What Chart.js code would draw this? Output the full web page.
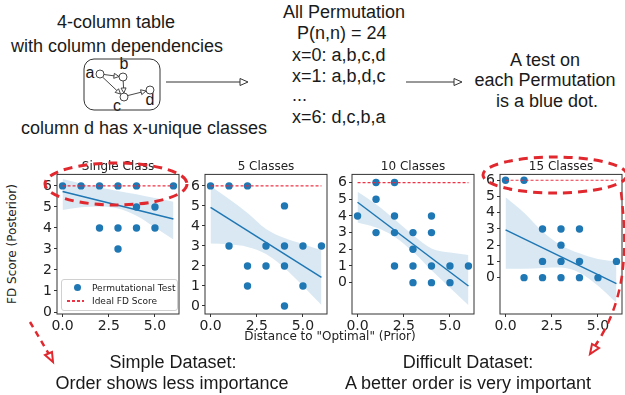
<!DOCTYPE html>
<html>
<head>
<meta charset="utf-8">
<script src="https://cdn.jsdelivr.net/npm/chart.js@4.4.1/dist/chart.umd.min.js"></script>
<style>
    body { margin: 0; width: 625px; height: 395px; background: #fff; position: relative; overflow: hidden;
           font-family: "Liberation Sans", Arial, sans-serif; color: #1a1a1a; }
    .c { position: absolute; font-size: 18px; white-space: nowrap; transform: translate(-50%, -50%); }
    .l { position: absolute; font-size: 18px; white-space: nowrap; transform: translateY(-50%); }
    .node { position: absolute; font-size: 16px; transform: translate(-50%, -50%); }
    .ax { position: absolute; font-family: "DejaVu Sans", sans-serif; font-size: 12px; white-space: nowrap; color: #222; }
    .panel { position: absolute; }
    #legend { position: absolute; left: 61px; top: 279px; width: 115px; height: 30px; border: 1px solid #d0d0d0;
              border-radius: 3px; background: rgba(255,255,255,0.85); font-family: "DejaVu Sans", sans-serif;
              font-size: 9px; color: #222; }
    #legend .row { position: absolute; left: 30px; white-space: nowrap; transform: translateY(-50%); }
    #legend .dot { position: absolute; left: 12px; top: 4px; width: 7px; height: 7px; border-radius: 50%; background: #1f77b4; }
    #legend .dash { position: absolute; left: 5px; top: 20px; width: 17px; height: 1.5px;
                    background: repeating-linear-gradient(to right, #ee3344 0 3px, transparent 3px 5px); }
    svg { position: absolute; left: 0; top: 0; }
</style>
</head>
<body>

<!-- top annotations -->
<div class="c" style="left:116px; top:22px">4-column table</div>
<div class="c" style="left:117px; top:46px">with column dependencies</div>
<div class="c" style="left:144px; top:128px">column d has x-unique classes</div>
<div class="node" style="left:90px; top:73px">a</div>
<div class="node" style="left:124px; top:64px">b</div>
<div class="node" style="left:117px; top:106px">c</div>
<div class="node" style="left:150px; top:100px">d</div>

<div class="l" style="left:283px; top:12px">All Permutation</div>
<div class="l" style="left:297px; top:33px">P(n,n) = 24</div>
<div class="l" style="left:292px; top:55px">x=0: a,b,c,d</div>
<div class="l" style="left:292px; top:76px">x=1: a,b,d,c</div>
<div class="l" style="left:292px; top:95px">...</div>
<div class="l" style="left:292px; top:117px">x=6: d,c,b,a</div>

<div class="c" style="left:545px; top:60px">A test on</div>
<div class="c" style="left:545px; top:80px">each Permutation</div>
<div class="c" style="left:547px; top:101px">is a blue dot.</div>

<!-- panels -->
<canvas id="p0" class="panel"></canvas>
<canvas id="p1" class="panel"></canvas>
<canvas id="p2" class="panel"></canvas>
<canvas id="p3" class="panel"></canvas>

<div id="legend">
    <div class="dot"></div><div class="row" style="top:8px">Permutational Test</div>
    <div class="dash"></div><div class="row" style="top:21px">Ideal FD Score</div>
</div>

<div class="ax" style="left:330px; top:336px; transform:translate(-50%,-50%)">Distance to "Optimal" (Prior)</div>
<div class="ax" style="left:12px; top:244px; transform:translate(-50%,-50%) rotate(-90deg)">FD Score (Posterior)</div>

<div class="c" style="left:173px; top:362px">Simple Dataset:</div>
<div class="c" style="left:172px; top:383px">Order shows less importance</div>
<div class="c" style="left:468px; top:362px">Difficult Dataset:</div>
<div class="c" style="left:468px; top:383px">A better order is very important</div>

<svg id="over" width="625" height="395"></svg>

<script>
// ---------------- data ----------------
const panelTitles = ["Single Class", "5 Classes", "10 Classes", "15 Classes"];
const xTicks = [0, 2.5, 5];
const yTicks = [0, 1, 2, 3, 4, 5, 6];
const idealScore = 6;
const fitX = [0, 6];
const bandX = [0, 1, 2, 3, 4, 5, 6];

// Single Class
const singleX = [0, 1, 2, 3, 4, 6, 4, 5, 2, 3, 4, 5, 3];
const singleY = [6, 6, 6, 6, 6, 6, 5, 5, 4, 4, 4, 4, 3];
const singleFit = [5.73, 4.43];
const singleUpper = [6.33, 6.12, 5.93, 5.76, 5.6, 5.42, 5.25];
const singleLower = [4.85, 4.98, 5.02, 4.92, 4.58, 4.02, 3.45];

// 5 Classes
const fiveX = [0, 1, 2, 4, 1, 3, 4, 5, 6, 2, 3, 4, 2, 5, 4];
const fiveY = [6, 6, 6, 5, 3, 3, 3, 3, 3, 2, 2, 2, 1, 1, 0];
const fiveFit = [4.93, 1.43];
const fiveUpper = [6.0, 5.35, 4.65, 3.85, 3.4, 3.1, 2.78];
const fiveLower = [3.12, 3.08, 2.95, 2.6, 1.9, 1.0, 0.05];

// 10 Classes
const tenX = [0, 1, 1, 1, 2, 2, 2, 2, 3, 3, 3, 3, 4, 4, 4, 4, 5, 5, 6];
const tenY = [4, 6, 5, 3, 6, 4, 3, 1, 3, 2, 1, 0, 4, 3, 1, 0, 1, 0, 1];
const tenFit = [4.82, -0.2];
const tenUpper = [5.45, 4.7, 3.8, 2.85, 2.05, 1.8, 1.65];
const tenLower = [3.6, 3.3, 2.75, 1.85, 0.75, -0.3, -1.35];

// 15 Classes
const fifteenX = [0, 1, 2, 3, 4, 3, 2, 3, 4, 6, 1, 2, 3, 4, 5];
const fifteenY = [6, 6, 3, 3, 3, 2, 1, 1, 1, 1, 0, 0, 0, 0, 0];
const fifteenFit = [2.94, -0.37];
const fifteenUpper = [4.95, 4.0, 2.85, 2.0, 1.5, 1.15, 1.0];
const fifteenLower = [0.55, 0.55, 0.6, 0.62, 0.3, -0.5, -1.55];

const pointsX = [singleX, fiveX, tenX, fifteenX];
const pointsY = [singleY, fiveY, tenY, fifteenY];
const fits = [singleFit, fiveFit, tenFit, fifteenFit];
const uppers = [singleUpper, fiveUpper, tenUpper, fifteenUpper];
const lowers = [singleLower, fiveLower, tenLower, fifteenLower];

// ---------------- layout ----------------
const boxTop = 174.4, boxH = 139.6, boxW = 123;
const yAxisW = 20, xAxisH = 20, titleH = 14.4;
const boxLeft = [57, 205, 352, 499.5];
const yRange = [[-0.095, 6.548], [-0.4, 6.575], [-1.88, 6.49], [-2.24, 6.36]];
const xRange = [-0.3, 6.3];

const blue = "#1f77b4";

const framePlugin = {
    id: "frame",
    afterDatasetsDraw: function(chart) {
        const a = chart.chartArea, ctx = chart.ctx;
        ctx.save();
        ctx.strokeStyle = "#333";
        ctx.lineWidth = 1;
        ctx.strokeRect(a.left, a.top, a.right - a.left, a.bottom - a.top);
        ctx.restore();
    }
};

function toXY(xs, ys) {
    return xs.map(function(x, k) { return { x: x, y: ys[k] }; });
}

function makePanel(i) {
    const cv = document.getElementById("p" + i);
    cv.width = yAxisW + boxW + 3;
    cv.height = titleH + boxH + xAxisH;
    cv.style.left = (boxLeft[i] - yAxisW) + "px";
    cv.style.top = (boxTop - titleH) + "px";

    new Chart(cv, {
        type: "scatter",
        data: {
            datasets: [
                { type: "line", data: toXY(bandX, uppers[i]), borderWidth: 0, pointRadius: 0,
                  fill: "+1", backgroundColor: "rgba(31,119,180,0.17)", cubicInterpolationMode: "monotone", order: 5 },
                { type: "line", data: toXY(bandX, lowers[i]), borderWidth: 0, pointRadius: 0,
                  fill: false, cubicInterpolationMode: "monotone", order: 4 },
                { type: "line", data: toXY(fitX, fits[i]), borderColor: blue, borderWidth: 1.5,
                  pointRadius: 0, fill: false, order: 3 },
                { type: "scatter", data: toXY(pointsX[i], pointsY[i]), backgroundColor: blue,
                  borderWidth: 0, pointRadius: 3.7, order: 2 },
                { type: "line", data: toXY(fitX, [idealScore, idealScore]), borderColor: "rgba(238,40,60,0.95)",
                  borderWidth: 1.2, borderDash: [3, 2], pointRadius: 0, fill: false, order: 1 }
            ]
        },
        options: {
            responsive: false,
            animation: false,
            devicePixelRatio: 1,
            layout: { padding: { left: 0, right: 3, top: 0, bottom: 0 } },
            plugins: {
                legend: { display: false },
                tooltip: { enabled: false },
                title: {
                    display: true, text: panelTitles[i], fullSize: false, color: "#222",
                    font: { family: "DejaVu Sans", size: 12, weight: "normal" },
                    padding: { top: 0, bottom: 0 }
                }
            },
            scales: {
                x: {
                    type: "linear", min: xRange[0], max: xRange[1],
                    afterBuildTicks: function(s) { s.ticks = xTicks.map(function(v) { return { value: v }; }); },
                    afterFit: function(s) { s.height = xAxisH; },
                    grid: { drawOnChartArea: false, tickLength: 3, color: "#333" },
                    border: { display: false },
                    ticks: { color: "#222", padding: 1, font: { family: "DejaVu Sans", size: 14 },
                             callback: function(v) { return Number(v).toFixed(1); } }
                },
                y: {
                    type: "linear", min: yRange[i][0], max: yRange[i][1],
                    afterBuildTicks: function(s) { s.ticks = yTicks.map(function(v) { return { value: v }; }); },
                    afterFit: function(s) { s.width = yAxisW; },
                    grid: { drawOnChartArea: false, tickLength: 3, color: "#333" },
                    border: { display: false },
                    ticks: { color: "#222", padding: 2, font: { family: "DejaVu Sans", size: 14 },
                             callback: function(v) { return String(v); } }
                }
            }
        },
        plugins: [framePlugin]
    });
}

for (let i = 0; i < 4; i++) makePanel(i);

// ---------------- overlay drawing (diagram, arrows, highlights) ----------------
const svg = document.getElementById("over");
const NS = "http://www.w3.org/2000/svg";
function el(name, attrs) {
    const e = document.createElementNS(NS, name);
    for (const k in attrs) e.setAttribute(k, attrs[k]);
    svg.appendChild(e);
    return e;
}
function arrow(x0, y0, x1, y1, len, half, color, width) {
    const dx = x1 - x0, dy = y1 - y0, d = Math.hypot(dx, dy);
    const ux = dx / d, uy = dy / d;
    const bx = x1 - ux * len, by = y1 - uy * len;
    el("line", { x1: x0, y1: y0, x2: bx, y2: by, stroke: color, "stroke-width": width });
    const pts = [x1 + "," + y1, (bx - uy * half) + "," + (by + ux * half), (bx + uy * half) + "," + (by - ux * half)];
    el("polygon", { points: pts.join(" "), fill: "#fff", stroke: color, "stroke-width": width });
}

// dependency diagram
el("rect", { x: 84, y: 59, width: 76, height: 51, rx: 10, fill: "none", stroke: "#333", "stroke-width": 1 });
arrow(104, 74.5, 119, 76.5, 5, 2.5, "#333", 0.9);
arrow(103, 77.5, 120.5, 94, 5, 2.5, "#333", 0.9);
arrow(123.2, 81, 123.8, 93, 5, 2.5, "#333", 0.9);
arrow(128, 95.5, 146, 91, 5, 2.5, "#333", 0.9);
[[100, 74], [123, 77], [124, 97], [150, 90]].forEach(function(p) {
    el("circle", { cx: p[0], cy: p[1], r: 4, fill: "#fff", stroke: "#333", "stroke-width": 0.9 });
});

// flow arrows
arrow(166, 82, 248, 82, 8, 3.5, "#333", 1);
arrow(406, 82, 462, 82, 8, 3.5, "#333", 1);

// red highlight ellipses and pointers
const red = "#e0282e";
el("ellipse", { cx: 116, cy: 184, rx: 71, ry: 21, fill: "none", stroke: red, "stroke-width": 3, "stroke-dasharray": "9 6" });
el("ellipse", { cx: 555, cy: 175, rx: 72, ry: 18, fill: "none", stroke: red, "stroke-width": 3, "stroke-dasharray": "9 6" });
el("path", { d: "M30 322 L50 356", fill: "none", stroke: red, "stroke-width": 2.5, "stroke-dasharray": "6 5" });
el("polygon", { points: "53,362 45,355 52,352", fill: "#fff", stroke: red, "stroke-width": 2 });
el("path", { d: "M621 192 C628 250 626 300 595 346", fill: "none", stroke: red, "stroke-width": 2.5, "stroke-dasharray": "8 6" });
el("polygon", { points: "590,354 592,344 599,348", fill: "#fff", stroke: red, "stroke-width": 2 });
</script>
</body>
</html>
